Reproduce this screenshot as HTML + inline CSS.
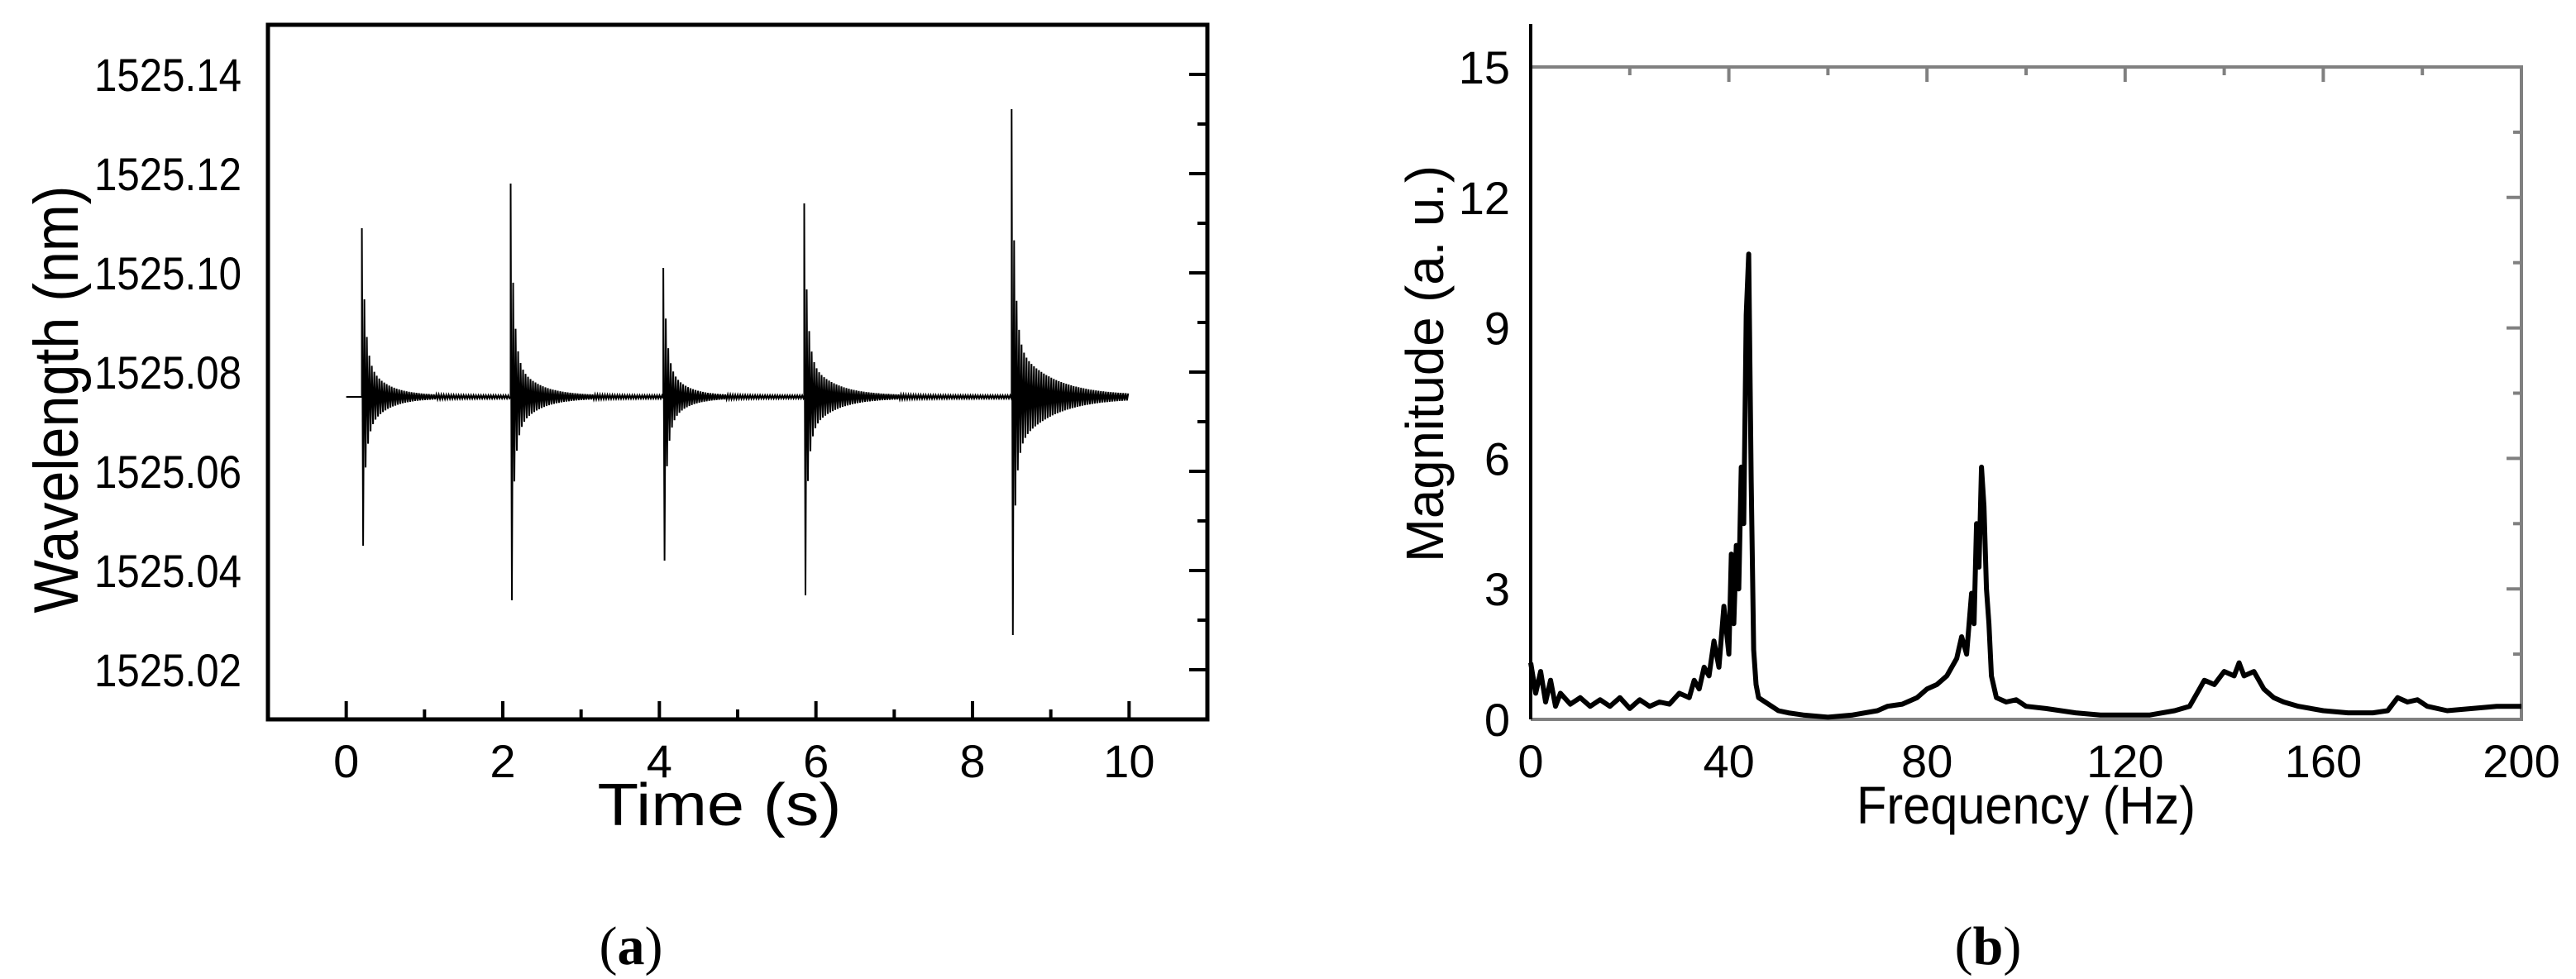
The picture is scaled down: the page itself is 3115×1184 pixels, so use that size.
<!DOCTYPE html>
<html><head><meta charset="utf-8"><style>
html,body{margin:0;padding:0;background:#fff}
svg{display:block}
text{font-family:"Liberation Sans",Arial,sans-serif;fill:#000}
</style></head><body>
<svg id="fig" width="3115" height="1184" viewBox="0 0 3115 1184">
<g id="A"></g>
<g id="B"></g>
<text x="763" y="1166" text-anchor="middle" style="font-family:'Liberation Serif',serif;font-size:66px">(<tspan font-weight="bold">a</tspan>)</text>
<text x="2404" y="1166" text-anchor="middle" style="font-family:'Liberation Serif',serif;font-size:66px">(<tspan font-weight="bold">b</tspan>)</text>
</svg>
<script>
// ---- Chart A data ----
const aXTicks = [0, 2, 4, 6, 8, 10];
const aYTicks = [1525.02, 1525.04, 1525.06, 1525.08, 1525.10, 1525.12, 1525.14];
const aYTickLabels = ["1525.02","1525.04","1525.06","1525.08","1525.10","1525.12","1525.14"];
const aBaseline = 1525.075;
const aEventTimes = [0.2, 2.1, 4.05, 5.85, 8.5];
const aEventMax = [1525.109, 1525.118, 1525.101, 1525.114, 1525.133];
const aEventMin = [1525.045, 1525.034, 1525.042, 1525.035, 1525.027];
const aEventTail = [0.008, 0.008, 0.007, 0.008, 0.011];
const aTailDecay = [0.25, 0.28, 0.22, 0.32, 0.45];
// ---- Chart B data ----
const bXTicks = [0, 40, 80, 120, 160, 200];
const bYTicks = [0, 3, 6, 9, 12, 15];
const bFreq = [0,1,2,3,4,5,6,8,10,12,14,16,18,20,22,24,26,28,30,32,33,34,35,36,37,38,39,40,40.5,41,41.5,42,42.5,43,43.5,44,44.5,45,45.5,46,48,50,52,55,60,65,70,72,75,78,80,82,84,86,87,88,89,89.5,90,90.5,91,91.5,92,92.5,93,94,96,98,100,104,110,115,120,125,130,133,135,136,138,140,142,143,144,146,148,150,152,155,160,165,170,173,175,177,179,181,185,190,195,200];
const bMag = [1.3,0.6,1.1,0.4,0.9,0.3,0.6,0.35,0.5,0.3,0.45,0.3,0.5,0.25,0.45,0.3,0.4,0.35,0.6,0.5,0.9,0.7,1.2,1.0,1.8,1.2,2.6,1.5,3.8,2.2,4.0,3.0,5.8,4.5,9.3,10.7,5.5,1.6,0.8,0.5,0.35,0.2,0.15,0.1,0.05,0.1,0.2,0.3,0.35,0.5,0.7,0.8,1.0,1.4,1.9,1.5,2.9,2.2,4.5,3.5,5.8,4.9,3.0,2.2,1.0,0.5,0.4,0.45,0.3,0.25,0.15,0.1,0.1,0.1,0.2,0.3,0.7,0.9,0.8,1.1,1.0,1.3,1.0,1.1,0.7,0.5,0.4,0.3,0.2,0.15,0.15,0.2,0.5,0.4,0.45,0.3,0.2,0.25,0.3,0.3];

const NS = "http://www.w3.org/2000/svg";
function mk(parent, tag, attrs) {
  const e = document.createElementNS(NS, tag);
  for (const k in attrs) e.setAttribute(k, attrs[k]);
  parent.appendChild(e);
  return e;
}

// ===== Chart A =====
(function(){
  const g = document.getElementById('A');
  const L = 324, R = 1460, T = 30, Bt = 870;
  const x = t => L + (t + 1) / 12 * (R - L);
  const y = v => Bt - (v - 1525.01) / 0.14 * (Bt - T);
  let d = `M${x(0)},${y(aBaseline)}`;
  for (let i = 0; i < aEventTimes.length; i++) {
    const t0 = aEventTimes[i];
    d += ` L${x(t0)},${y(aBaseline)}`;
    const end = i + 1 < aEventTimes.length ? aEventTimes[i + 1] : 10;
    const up = aEventMax[i] - aBaseline, dn = aBaseline - aEventMin[i];
    let k = 0;
    for (let px = x(t0); px < x(end); px += 1.5, k++) {
      const dt = (px - x(t0)) / (R - L) * 12;
      const tail = aEventTail[i] * Math.exp(-dt / aTailDecay[i]);
      let v;
      if (k === 0) v = aEventMax[i];
      else if (k === 1) v = aEventMin[i];
      else if (k % 2 === 0) v = aBaseline + up * Math.exp(-dt / 0.04) * 0.8 + tail + 0.0003;
      else v = aBaseline - dn * Math.exp(-dt / 0.04) * 0.8 - tail - 0.0003;
      d += ` L${px.toFixed(1)},${y(v).toFixed(1)}`;
    }
  }
  const line = mk(g, 'path', {d: d, fill: 'none', stroke: '#000', 'stroke-width': 2});
  
  
  const fr = mk(g, 'rect', {x: L, y: T, width: R - L, height: Bt - T, fill: 'none', stroke: '#000', 'stroke-width': 5});
  
  
  aXTicks.forEach(t => {
    const tk = mk(g, 'line', {x1: x(t), x2: x(t), y1: Bt, y2: Bt - 22, stroke: '#000', 'stroke-width': 4});
    
    
    const m = mk(g, 'line', {x1: x(t + 1), x2: x(t + 1), y1: Bt, y2: Bt - 12, stroke: '#000', 'stroke-width': 4});
    
    
    const lb = mk(g, 'text', {x: x(t), y: 940, 'text-anchor': 'middle', 'font-size': 56});
    lb.textContent = t;
    
    
  });
  aYTicks.forEach((v, i) => {
    const tk = mk(g, 'line', {x1: R, x2: R - 22, y1: y(v), y2: y(v), stroke: '#000', 'stroke-width': 4});
    
    
    const m = mk(g, 'line', {x1: R, x2: R - 12, y1: y(v + 0.01), y2: y(v + 0.01), stroke: '#000', 'stroke-width': 4});
    
    
    const lb = mk(g, 'text', {x: 292, y: y(v) + 20, 'text-anchor': 'end', 'font-size': 56, textLength: 178, lengthAdjust: 'spacingAndGlyphs'});
    lb.textContent = aYTickLabels[i];
    
    
  });
  const xt = mk(g, 'text', {x: 870, y: 998, 'text-anchor': 'middle', 'font-size': 72, textLength: 295, lengthAdjust: 'spacingAndGlyphs'});
  xt.textContent = 'Time (s)';
  
  
  const yt = mk(g, 'text', {x: 0, y: 0, 'text-anchor': 'middle', 'font-size': 76, textLength: 517, lengthAdjust: 'spacingAndGlyphs', transform: 'translate(94,483) rotate(-90)'});
  yt.textContent = 'Wavelength (nm)';
  
  
})();

// ===== Chart B =====
(function(){
  const g = document.getElementById('B');
  const L = 1851, R = 3049, T = 81, Bt = 870;
  const x = f => L + f / 200 * (R - L);
  const y = v => Bt - v / 15 * (Bt - T);
  const gr = '#808080';
  const fr = mk(g, 'path', {d: `M${L},${T} L${R},${T} L${R},${Bt} L${L},${Bt}`, fill: 'none', stroke: gr, 'stroke-width': 4});
  
  
  bXTicks.forEach(f => {
    const tk = mk(g, 'line', {x1: x(f), x2: x(f), y1: T, y2: T + 18, stroke: gr, 'stroke-width': 4});
    
    
    if (f < 200) {
      const m = mk(g, 'line', {x1: x(f + 20), x2: x(f + 20), y1: T, y2: T + 10, stroke: gr, 'stroke-width': 4});
      
      
    }
    const lb = mk(g, 'text', {x: x(f), y: 940, 'text-anchor': 'middle', 'font-size': 56});
    lb.textContent = f;
    
    
  });
  bYTicks.forEach(v => {
    const tk = mk(g, 'line', {x1: R, x2: R - 18, y1: y(v), y2: y(v), stroke: gr, 'stroke-width': 4});
    
    
    if (v < 15) {
      const m = mk(g, 'line', {x1: R, x2: R - 10, y1: y(v + 1.5), y2: y(v + 1.5), stroke: gr, 'stroke-width': 4});
      
      
    }
    const lb = mk(g, 'text', {x: 1826, y: y(v) + 20, 'text-anchor': 'end', 'font-size': 56});
    lb.textContent = v;
    
    
  });
  let d = '';
  bFreq.forEach((f, i) => { d += (i ? ' L' : 'M') + x(f).toFixed(1) + ',' + y(bMag[i]).toFixed(1); });
  const line = mk(g, 'path', {d: d, fill: 'none', stroke: '#000', 'stroke-width': 6, 'stroke-linejoin': 'round'});
  
  
  const ax = mk(g, 'line', {x1: L, x2: L, y1: 29, y2: Bt, stroke: '#000', 'stroke-width': 4});
  
  
  const xt = mk(g, 'text', {x: 2450, y: 996, 'text-anchor': 'middle', 'font-size': 64, textLength: 410, lengthAdjust: 'spacingAndGlyphs'});
  xt.textContent = 'Frequency (Hz)';
  
  
  const yt = mk(g, 'text', {x: 0, y: 0, 'text-anchor': 'middle', 'font-size': 64, textLength: 480, lengthAdjust: 'spacingAndGlyphs', transform: 'translate(1745,440) rotate(-90)'});
  yt.textContent = 'Magnitude (a. u.)';
  
  
})();
</script>
</body></html>
